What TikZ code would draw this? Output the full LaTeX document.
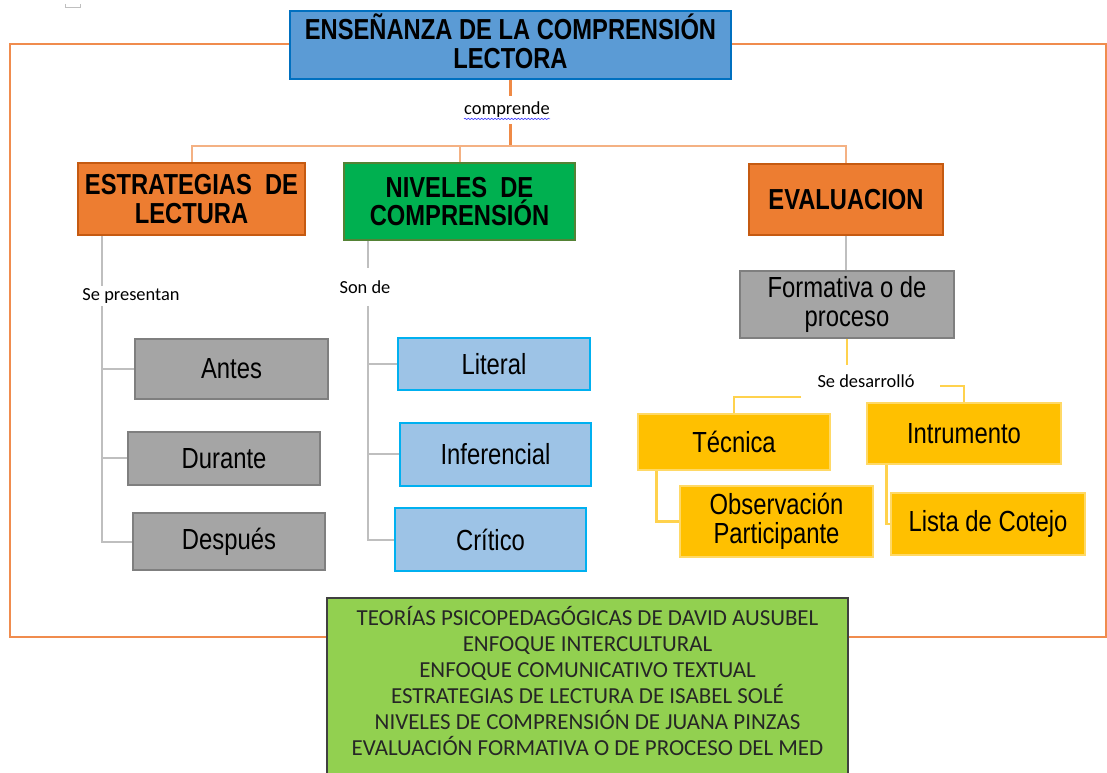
\documentclass[tikz,border=0pt]{standalone}
\usepackage{fontspec}
\setmainfont{Liberation Sans}
\newfontfamily\narrowfont[FakeStretch=0.82]{Liberation Sans}
\newfontfamily\calibfont{Carlito}
\usetikzlibrary{calc,decorations.pathmorphing}
\definecolor{titlefill}{HTML}{5B9BD5}
\definecolor{titledraw}{HTML}{0070C0}
\definecolor{orfill}{HTML}{ED7D31}
\definecolor{ordraw}{HTML}{C55A11}
\definecolor{grfill}{HTML}{00B050}
\definecolor{grdraw}{HTML}{548235}
\definecolor{gyfill}{HTML}{A5A5A5}
\definecolor{gydraw}{HTML}{7F7F7F}
\definecolor{blfill}{HTML}{9DC3E6}
\definecolor{bldraw}{HTML}{00B0F0}
\definecolor{yefill}{HTML}{FFC000}
\definecolor{yedraw}{HTML}{FFD966}
\definecolor{lgfill}{HTML}{92D050}
\definecolor{lgdraw}{HTML}{404040}
\definecolor{framecol}{HTML}{F08C4E}
\definecolor{lorange}{HTML}{F4B183}
\definecolor{gyline}{HTML}{BFBFBF}
\definecolor{yeline}{HTML}{FFD24D}
\definecolor{txtdark}{HTML}{262626}
\tikzset{
  box/.style={draw, rectangle, inner sep=0pt, align=center,
    font=\narrowfont\fontsize{21.8}{22}\selectfont},
  head/.style={box, font=\narrowfont\bfseries\fontsize{21.7}{21.5}\selectfont},
  orbox/.style={head, fill=orfill, draw=ordraw, line width=1.5pt},
  gybox/.style={box, fill=gyfill, draw=gydraw, line width=1.8pt},
  blbox/.style={box, fill=blfill, draw=bldraw, line width=2.2pt},
  yebox/.style={box, fill=yefill, draw=yedraw, line width=2.2pt},
  lbl/.style={inner xsep=0pt, inner ysep=0pt, font=\calibfont\fontsize{13.8}{16}\selectfont},
  oline/.style={draw=orfill!90!white, line width=2.2pt},
  loline/.style={draw=lorange, line width=1.5pt},
  gline/.style={draw=gyline, line width=1.5pt},
  yline/.style={draw=yeline, line width=1.9pt}
}
\begin{document}
\begin{tikzpicture}[x=0.75pt,y=-0.75pt]
\useasboundingbox (0,0) rectangle (1107,773);
% outer frame
\draw[framecol, line width=1.1pt] (10,44) rectangle (1106,637);
\draw[gray!50, line width=0.7pt] (65,4) -- (65,7.5) -- (80,7.5) -- (80,4);

% main nodes
\node[head, fill=titlefill, draw=titledraw, line width=2pt, minimum width=330.75pt, minimum height=51pt] (title) at (510.5,45) {ENSEÑANZA DE LA COMPRENSIÓN\\LECTORA\\[-15.5pt]\mbox{}};
\node[orbox, minimum width=170.25pt, minimum height=54pt] (estr) at (191.5,199) {ESTRATEGIAS~~DE\\LECTURA};
\node[head, fill=grfill, draw=grdraw, line width=1.5pt, minimum width=173.25pt, minimum height=57.75pt] (niv) at (459.5,201.5) {NIVELES~~DE\\COMPRENSIÓN};
\node[orbox, minimum width=145.5pt, minimum height=53.25pt] (eval) at (846,199.5) {EVALUACION};

\node[gybox, minimum width=144.75pt, minimum height=45pt] (antes) at (231.5,369) {Antes};
\node[gybox, minimum width=144pt, minimum height=39.75pt] (durante) at (224,458.5) {Durante};
\node[gybox, minimum width=144pt, minimum height=42.75pt] (despues) at (229,541.5) {Después};

\node[blbox, minimum width=144pt, minimum height=39pt] (literal) at (494,364) {Literal};
\node[blbox, minimum width=143.25pt, minimum height=47.25pt] (infer) at (495.5,454.5) {Inferencial};
\node[blbox, minimum width=143.25pt, minimum height=47.25pt] (critico) at (490.5,539.5) {Crítico};

\node[gybox, minimum width=160.5pt, minimum height=50.25pt] (form) at (847,304.5) {Formativa o de\\proceso};
\node[yebox, minimum width=144pt, minimum height=42pt] (tec) at (734,442) {Técnica};
\node[yebox, minimum width=145.5pt, minimum height=45.75pt] (intr) at (964,433.5) {Intrumento};
\node[yebox, minimum width=144.75pt, minimum height=53.25pt] (obs) at (776.5,521.5) {Observación\\Participante};
\node[yebox, minimum width=145.5pt, minimum height=46.5pt] (lista) at (988,524) {Lista de Cotejo};

\node[draw=lgdraw, fill=lgfill, line width=0.9pt, minimum width=390.75pt, minimum height=133.5pt, inner sep=0pt, align=center, text=txtdark, font=\calibfont\fontsize{17.2}{19.5}\selectfont] (theory) at (587.5,687) {TEORÍAS PSICOPEDAGÓGICAS DE DAVID AUSUBEL\\ENFOQUE INTERCULTURAL\\ENFOQUE COMUNICATIVO TEXTUAL\\ESTRATEGIAS DE LECTURA DE ISABEL SOLÉ\\NIVELES DE COMPRENSIÓN DE JUANA PINZAS\\EVALUACIÓN FORMATIVA O DE PROCESO DEL MED\\[-10.5pt]\mbox{}};

% labels
\node[lbl, minimum height=20.25pt] (cmp) at (507,110) {comprende};
\draw[blue!75, line width=0.5pt, decorate, decoration={snake, amplitude=0.5pt, segment length=2.5pt}] ($(cmp.base west)+(0,4)$) -- ($(cmp.base east)+(0,4)$);
\node[lbl, minimum height=15pt] (sepres) at (131,296) {Se presentan};
\node[lbl, minimum height=27.75pt] (sonde) at (365,287) {Son de};
\node[lbl, minimum height=24pt] (sedes) at (866,381) {Se desarrolló};

% coordinates
\coordinate (hub) at (510.5,146);
\coordinate (lsp) at ($(estr.south west)+(25,0)$);
\coordinate (nsp) at ($(niv.south west)+(25,0)$);
\coordinate (dl) at (801,397);
\coordinate (dr) at (940,386);

% connectors
\draw[oline] (title.south) -- (title.south |- cmp.north);
\draw[oline] (title.south |- cmp.south) -- (hub);
\draw[loline] (estr.north) |- (hub) -| (eval.north);
\draw[loline] (niv.north) -- (niv.north |- hub);

\draw[gline] (lsp) -- (lsp |- sepres.north);
\draw[gline] (lsp |- sepres.south) |- (despues.west);
\draw[gline] (lsp |- antes.west) -- (antes.west);
\draw[gline] (lsp |- durante.west) -- (durante.west);

\draw[gline] (nsp) -- (nsp |- sonde.north);
\draw[gline] (nsp |- sonde.south) |- (critico.west);
\draw[gline] (nsp |- literal.west) -- (literal.west);
\draw[gline] (nsp |- infer.west) -- (infer.west);

\draw[gline] (eval.south) -- (eval.south |- form.north);

\draw[yline] (form.south) -- (form.south |- sedes.north);
\draw[yline] (dl) -| (tec.north);
\draw[yline] (dr) -| (intr.north);
\draw[yline] ($(tec.south west)+(20,0)$) |- (obs.west);
\draw[yline] ($(intr.south west)+(21,0)$) |- (lista.west);
\end{tikzpicture}
\end{document}
